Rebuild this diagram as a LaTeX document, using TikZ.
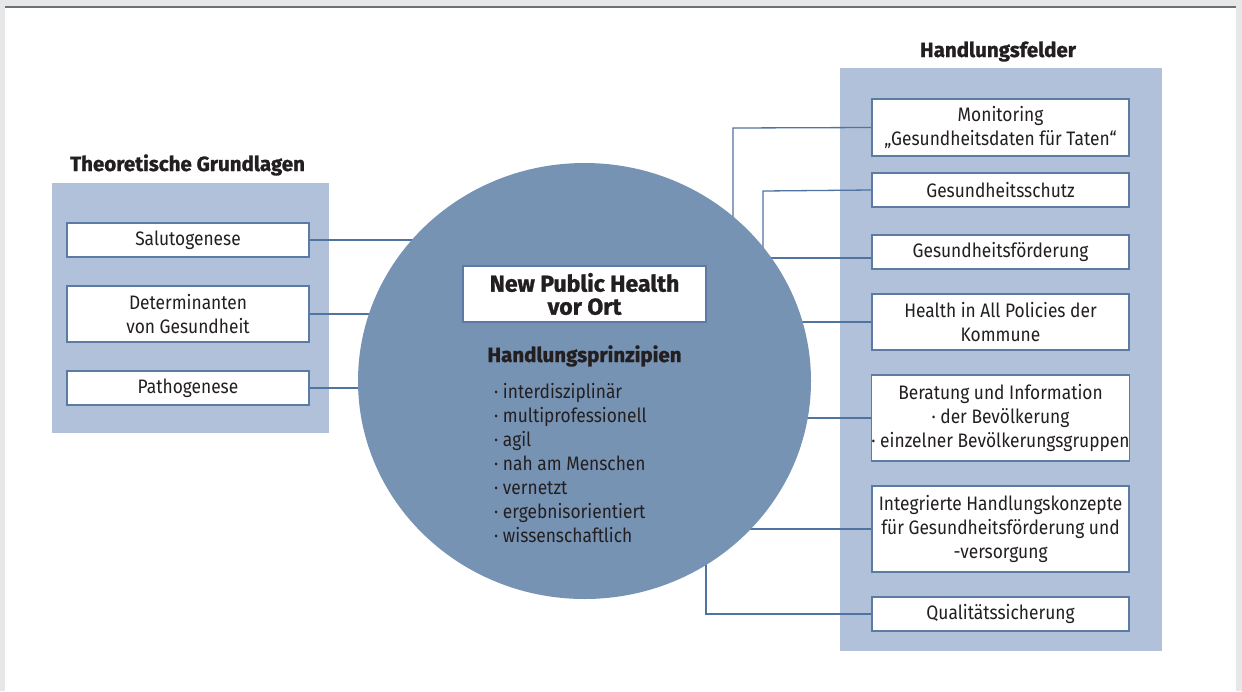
\documentclass[tikz,border=0pt]{standalone}
\usepackage{fontspec}
\setmainfont[FakeStretch=0.89, BoldFeatures={FakeStretch=1, FakeBold=1.2}]{Fira Sans}
\usetikzlibrary{calc,shapes.geometric}
\definecolor{pagegray}{HTML}{E6E7E8}
\definecolor{rulegray}{HTML}{6F7072}
\definecolor{panelblue}{HTML}{B0C1D9}
\definecolor{hubblue}{HTML}{7793B4}
\definecolor{wireblue}{HTML}{4F74A0}
\definecolor{edgeblue}{HTML}{5B7BA5}
\definecolor{ink}{HTML}{231F20}
\pgfdeclarelayer{page}
\pgfdeclarelayer{panel}
\pgfdeclarelayer{wire}
\pgfsetlayers{page,panel,wire,main}
\begin{document}
\begin{tikzpicture}[x=1pt,y=-1pt,
  every node/.style={text=ink, inner sep=0pt},
  bodytext/.style={font=\fontsize{19.5}{24}\selectfont},
  headtext/.style={font=\fontsize{20.5}{24}\selectfont\bfseries},
  field/.style={bodytext, draw=edgeblue, line width=1.4pt, fill=white, align=center},
  lfield/.style={field, minimum width=242pt},
  rfield/.style={field, minimum width=257pt},
  panelbox/.style={fill=panelblue, draw=none},
  wire/.style={draw=wireblue, line width=1.3pt},
  item/.style={bodytext, anchor=base west}
]
% page frame
\begin{pgfonlayer}{page}
\fill[pagegray] (0,0) rectangle (1242,691);
\fill[white] (5,8) rectangle (1236,691);
\draw[rulegray, line width=2pt] (5,7) -- (1236,7);
\end{pgfonlayer}

% side panels
\begin{pgfonlayer}{panel}
\node[panelbox, minimum width=277pt, minimum height=250pt] (lp) at (190.5,308) {};
\node[panelbox, minimum width=322pt, minimum height=583pt] (rp) at (1001,359.5) {};
\end{pgfonlayer}

% panel headings
\node[headtext, anchor=base] (lhead) at (187.5,171) {Theoretische Grundlagen};
\node[headtext, anchor=base] (rhead) at (998,57) {Handlungsfelder};

% central ellipse
\node[ellipse, fill=hubblue, draw=none, minimum width=453pt, minimum height=436pt] (hub) at (584.5,381) {};
\node[draw=edgeblue, line width=1.4pt, fill=white, align=center,
      minimum width=243pt, minimum height=56pt,
      font=\fontsize{23}{23}\selectfont\bfseries] (title) at (584.5,294) {New Public Health\\vor Ort};
\node[headtext, anchor=base] (prin) at (584.5,362) {Handlungsprinzipien};
\foreach \t [count=\i] in {interdisziplinär, multiprofessionell, agil, nah am Menschen, vernetzt, ergebnisorientiert, wissenschaftlich}
  \node[item] (p\i) at (494,{398+24.1*(\i-1)}) {· \t};

% theoretical foundations
\node[lfield, minimum height=34pt] (salu) at (188,240) {Salutogenese};
\node[lfield, minimum height=56pt] (det) at (188,314) {Determinanten\\von Gesundheit};
\node[lfield, minimum height=34pt] (path) at (188,388) {Pathogenese};

% fields of action
\node[rfield, minimum height=57pt] (mon) at (1000.5,127.5) {Monitoring\\„Gesundheitsdaten für Taten“};
\node[rfield, minimum height=34pt] (schutz) at (1000.5,190) {Gesundheitsschutz};
\node[rfield, minimum height=34pt] (foerd) at (1000.5,252) {Gesundheitsförderung};
\node[rfield, minimum height=56pt] (hiap) at (1000.5,322) {Health in All Policies der\\Kommune};
\node[rfield, minimum height=86pt] (ber) at (1000.5,418) {Beratung und Information\\· der Bevölkerung\\· einzelner Bevölkerungsgruppen};
\node[rfield, minimum height=86pt] (integ) at (1000.5,529) {Integrierte Handlungskonzepte\\für Gesundheitsförderung und\\-versorgung};
\node[rfield, minimum height=34pt] (qual) at (1000.5,614) {Qualitätssicherung};

% bend points of the elbow connectors
\coordinate (monbend) at (733,128);
\coordinate (schutzbend) at (763,191);
\coordinate (qualbend) at (706,614);

% connectors (run under the ellipse)
\begin{pgfonlayer}{wire}
\draw[wire] (salu.east) -- (salu.east -| hub.center);
\draw[wire] (det.east) -- (det.east -| hub.center);
\draw[wire] (path.east) -- (path.east -| hub.center);
\draw[wire] (mon.west) -- (monbend) -- (monbend |- hub.center);
\draw[wire] (schutz.west) -- (schutzbend) -- (schutzbend |- hub.center);
\draw[wire] ($(foerd.west)+(0,6)$) -- ($(foerd.west -| hub.center)+(0,6)$);
\draw[wire] (hiap.west) -- (hiap.west -| hub.center);
\draw[wire] (ber.west) -- (ber.west -| hub.center);
\draw[wire] (integ.west) -- (integ.west -| hub.center);
\draw[wire] (qual.west) -- (qualbend) -- (qualbend |- hub.center);
\end{pgfonlayer}
\end{tikzpicture}
\end{document}
